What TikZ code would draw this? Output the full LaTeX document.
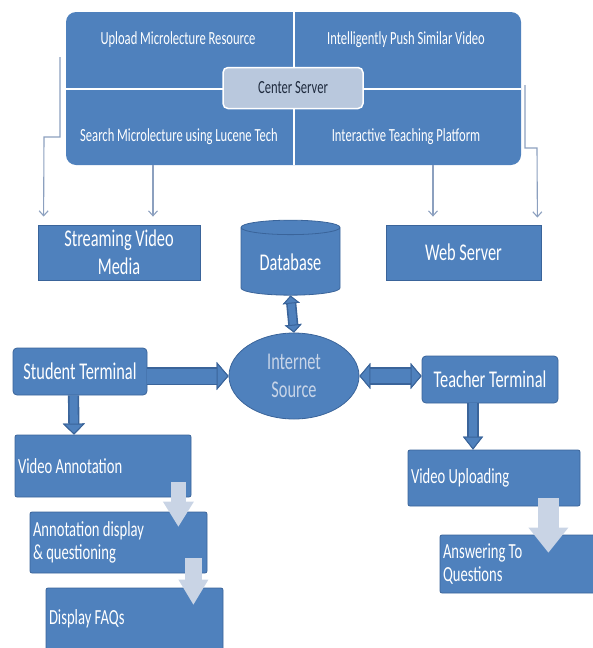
\documentclass[tikz,border=0pt]{standalone}
\usepackage{fontspec}
\setmainfont{Carlito}[FakeStretch=0.68]
\usetikzlibrary{positioning, arrows.meta, shapes.geometric}

\definecolor{boxfill}{HTML}{4F81BD}
\definecolor{boxedge}{HTML}{3A649A}
\definecolor{centerfill}{HTML}{B9C8DD}
\definecolor{centertext}{HTML}{1F2B3E}
\definecolor{paleblock}{HTML}{C9D4E5}
\definecolor{thinline}{HTML}{8CA0BF}
\definecolor{inettext}{HTML}{C8D5E8}

\begin{document}
\begin{tikzpicture}[
    x=1pt, y=-1pt,
    node_box/.style={rectangle, fill=boxfill, draw=boxedge, line width=0.8pt, text=white, inner sep=2pt, align=center, font=\fontsize{24}{28}\selectfont},
    node_term/.style={node_box, rounded corners=4pt},
    node_step/.style={node_box, rounded corners=2pt, align=flush left, inner xsep=3pt, font=\fontsize{21.5}{23}\selectfont},
    node_label/.style={text=white, font=\fontsize{18.5}{22}\selectfont},
    edge_thin/.style={draw=thinline, line width=1.1pt, -{Straight Barb[length=5pt, width=9pt]}},
    edge_fat/.style={draw=boxfill, preaction={draw=boxedge, line width=\pgflinewidth+1.6pt}},
    edge_pale/.style={draw=paleblock},
    /pgf/arrow keys/fat_tip/.style={line width=1pt, color=boxedge, fill=boxfill}
  ]
    \useasboundingbox (0,0) rectangle (593,648);

    % center server block
    \node[rectangle, rounded corners=10pt, fill=boxfill, minimum width=455pt, minimum height=153pt, inner sep=0pt] (server) at (293.5,88.5) {};
    \draw[white, line width=2pt] (server.north) -- (server.south);
    \draw[white, line width=2pt] (server.west) -- (server.east);
    \node[rectangle, rounded corners=5pt, fill=centerfill, draw=white, line width=1.5pt, minimum width=140pt, minimum height=41pt, text=centertext, font=\fontsize{18.5}{22}\selectfont] (center) at (293,88) {Center Server};

    \node[node_label] (upload) at (178,40) {Upload Microlecture Resource};
    \node[node_label] (push) at (406,40) {Intelligently Push Similar Video};
    \node[node_label] (search) at (179,137) {Search Microlecture using Lucene Tech};
    \node[node_label] (platform) at (406,137) {Interactive Teaching Platform};

    % servers and storage
    \node[node_box, minimum width=162pt, minimum height=55pt] (stream) at (119,252.5) {Streaming Video\\Media};
    \node[node_box, cylinder, shape border rotate=90, aspect=0.22, minimum width=99pt, minimum height=75pt] (db) at (290.5,262.5) {Database};
    \node[node_box, minimum width=155pt, minimum height=55pt] (web) at (463.5,252.5) {Web Server};

    \node[node_box, ellipse, minimum width=130pt, minimum height=86pt, inner sep=0pt, text=inettext] (inet) at (294,376) {Internet\\Source};

    \node[node_term, minimum width=134pt, minimum height=47pt] (student) at (80,371.5) {Student Terminal};
    \node[node_term, minimum width=136pt, minimum height=47pt] (teacher) at (490,379.5) {Teacher Terminal};

    % student steps
    \node[node_step, text width=170pt, minimum height=62pt] (vann) at (103,466) {Video Annotation};
    \node[node_step, text width=171pt, minimum height=61pt] (adisp) at (118.5,542.5) {Annotation display\\\& questioning};
    \node[node_step, text width=171pt, minimum height=62pt] (faq) at (134.5,619) {Display FAQs};

    % teacher steps
    \node[node_step, text width=166pt, minimum height=56pt] (vup) at (494,478) {Video Uploading};
    \node[node_step, text width=154pt, minimum height=58pt] (answ) at (520,564) {Answering To\\Questions};

    % thin links from the server block
    \coordinate (tapL) at (60,57);
    \coordinate (tapR) at (525,85);
    \draw[edge_thin] (tapL) -- ++(0,80) -- ++(-16,0) -- ([xshift=6pt, yshift=8pt]stream.north west);
    \draw[edge_thin] ([xshift=-140.5pt]server.south) -- ([xshift=34pt, yshift=8pt]stream.north);
    \draw[edge_thin] ([xshift=139.5pt]server.south) -- ([xshift=-30.5pt, yshift=8pt]web.north);
    \draw[edge_thin] (tapR) -- ++(0,63) -- ++(12,0) -- ([xshift=-4pt, yshift=7pt]web.north east);

    % block arrows
    \draw[edge_fat, line width=7pt, {Triangle[length=8pt, width=17pt, fat_tip]}-{Triangle[length=8pt, width=17pt, fat_tip]}] (db.south) -- (inet.north);
    \draw[edge_fat, line width=15pt, -{Triangle[length=12pt, width=28pt, fat_tip]}] (student.east |- inet.west) -- (inet.west);
    \draw[edge_fat, line width=14pt, {Triangle[length=11pt, width=26pt, fat_tip]}-{Triangle[length=11pt, width=26pt, fat_tip]}] (inet.east) -- (teacher.west |- inet.east);
    \draw[edge_fat, line width=8pt, -{Triangle[length=11pt, width=22pt, fat_tip]}] ([xshift=-6.5pt]student.south) -- ([xshift=-29pt]vann.north);
    \draw[edge_fat, line width=8pt, -{Triangle[length=13pt, width=20pt, fat_tip]}] ([xshift=-17pt]teacher.south) -- ([xshift=-21pt]vup.north);

    % pale step arrows
    \draw[edge_pale, line width=15pt, -{Triangle[length=25pt, width=31pt, line width=0pt]}] ([xshift=-13pt, yshift=15pt]vann.south east) -- ([xshift=-29pt, yshift=-15pt]adisp.north east);
    \draw[edge_pale, line width=17pt, -{Triangle[length=25pt, width=30pt, line width=0pt]}] ([xshift=-14pt, yshift=15pt]adisp.south east) -- ([xshift=-30pt, yshift=-17pt]faq.north east);
    \draw[edge_pale, line width=21pt, -{Triangle[length=25pt, width=40pt, line width=0pt]}] ([xshift=-32pt, yshift=8pt]vup.south east) -- ([xshift=-52pt, yshift=-18pt]answ.north east);
  \end{tikzpicture}
\end{document}
